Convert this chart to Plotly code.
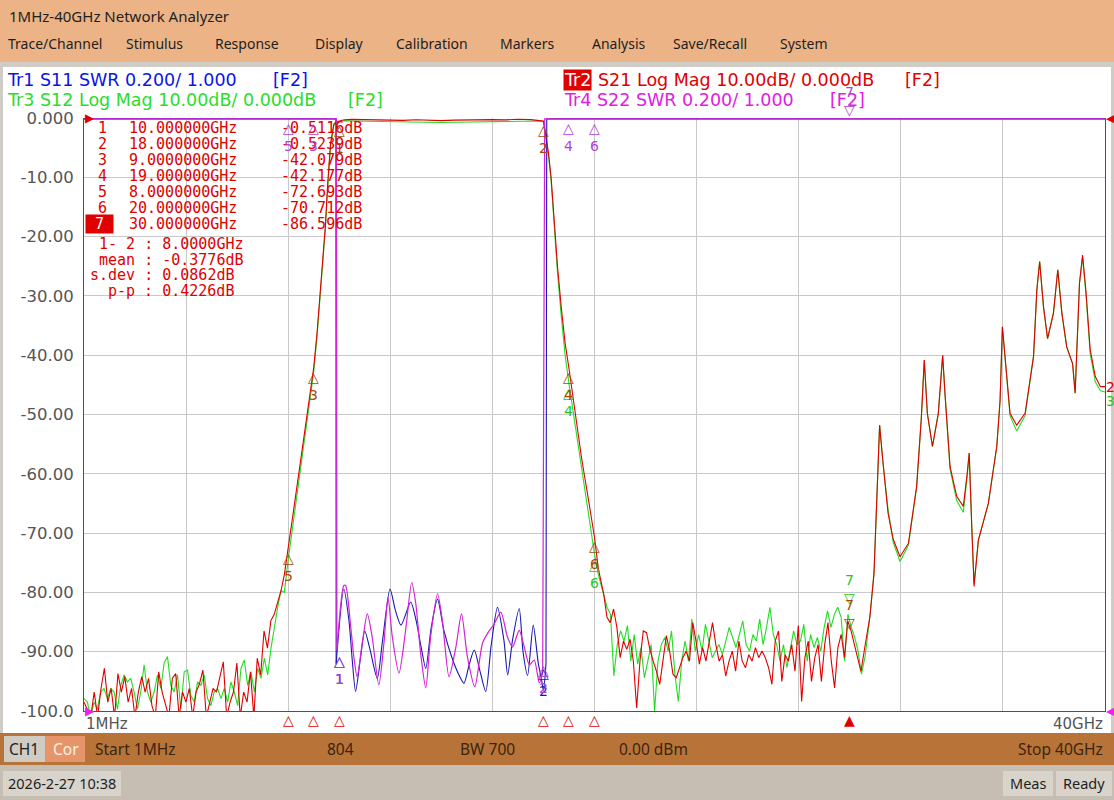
import numpy as np
import plotly.graph_objects as go

# ---------------- data ----------------
START_GHZ = 0.001
STOP_GHZ = 40.0
GRID_X = list(np.linspace(START_GHZ, STOP_GHZ, 11))
DB_TICKS = [0, -10, -20, -30, -40, -50, -60, -70, -80, -90, -100]
DB_TICK_TEXT = ["0.000", "-10.00", "-20.00", "-30.00", "-40.00", "-50.00",
                "-60.00", "-70.00", "-80.00", "-90.00", "-100.0"]
DB_RANGE = (-100.0, 0.0)
SWR_RANGE = (1.0, 3.003)   # 0.200/div, reference 1.000 at bottom

# S21 (Tr2, red) and S12 (Tr3, green), dB
S21_LO_RANGE = (0.001, 7.72)
S21_LO = [-98.5, -99.9, -101, -96.8, -101, -96.2, -92.8, -98.5, -96.2, -101,
          -93.7, -96.8, -94.2, -98.5, -96.2, -101, -96.8, -94.2, -96.8, -94.5,
          -99.1, -101, -93.4, -96.8, -99.1, -101, -94.5, -93.7, -101, -96.8,
          -98.5, -96.2, -101, -96.8, -95.4, -93.1, -101, -98.5, -96.2, -96.8,
          -94.2, -91.7, -101, -98.5, -96.8, -91.9, -101, -96.8, -98.5, -93.4,
          -101, -91.1, -93.9, -86.5, -89.4, -84.8, -83.7, -81.9, -79.7]
S12_LO_RANGE = (0.001, 7.72)
S12_LO = [-97.9, -98.5, -101, -98.5, -99.7, -96.8, -96.2, -97.9, -96.2, -96.8,
          -99.7, -95.7, -93.9, -95.1, -94.5, -96.8, -99.7, -96.8, -92.2, -96.8,
          -98.5, -96.8, -93.9, -96.2, -91.9, -90.8, -95.7, -96.8, -93.9, -99.7,
          -93.4, -93.1, -97.4, -98.5, -95.1, -95.7, -93.9, -97.9, -99.1, -96.8,
          -96.2, -97.9, -96.2, -98.5, -95.1, -96.8, -99.1, -92.8, -91.4, -95.7,
          -93.4, -96.8, -92.8, -94.5, -91.1, -93.9, -89.4, -85.9, -82.5, -79.7]

MID_F = [7.85, 8.0, 8.25, 8.5, 8.75, 9.0, 9.13, 9.33, 9.46, 9.55, 9.66, 9.79, 9.9,
         10.0, 10.2, 10.5, 11.0, 11.5, 12.0, 12.5, 13.0, 13.5, 14.0, 14.5, 15.0,
         15.5, 16.0, 16.5, 17.0, 17.5, 17.8, 18.0, 18.1, 18.2, 18.3, 18.4, 18.55,
         18.7, 18.85, 19.0, 19.25, 19.5, 19.75, 20.0, 20.15]
S21_MID = [-77.0, -72.7, -65.0, -57.4, -49.8, -42.1, -36.3, -25.0, -18.0, -11.0,
           -4.3, -1.0, -0.6, -0.51, -0.30, -0.24, -0.30, -0.36, -0.32, -0.40,
           -0.30, -0.36, -0.44, -0.35, -0.30, -0.34, -0.28, -0.31, -0.22, -0.27,
           -0.38, -0.52, -3.0, -6.0, -10.0, -16.0, -25.0, -32.0, -38.0, -42.2,
           -50.0, -57.5, -64.0, -70.7, -76.0]
S12_MID = [-80.0, -74.5, -66.5, -58.5, -50.5, -42.8, -36.8, -25.5, -18.5, -11.5,
           -4.6, -1.2, -0.8, -0.62, -0.45, -0.50, -0.55, -0.60, -0.62, -0.66,
           -0.70, -0.72, -0.76, -0.72, -0.68, -0.63, -0.60, -0.56, -0.50, -0.47,
           -0.50, -0.60, -3.3, -6.5, -10.5, -17.0, -26.0, -33.5, -40.0, -44.8,
           -52.0, -59.0, -66.0, -73.5, -77.0]

S21_HI_RANGE = (20.36, 30.44)
S21_HI = [-80.3, -84.2, -85.1, -82.8, -85.9, -91.0, -88.2, -89.6, -87.9, -91.6,
          -99.5, -91.6, -86.5, -86.8, -89.6, -91.6, -93.3, -95.5, -91.6, -87.3,
          -89.9, -93.8, -94.4, -92.7, -91.0, -89.9, -91.6, -85.1, -88.2, -92.1,
          -89.3, -91.6, -88.2, -85.1, -88.8, -91.6, -90.5, -94.1, -91.6, -89.9,
          -93.3, -88.2, -91.6, -92.7, -90.5, -91.6, -89.3, -91.0, -89.9, -91.0,
          -92.7, -95.5, -88.2, -86.5, -95.0, -90.5, -91.6, -88.8, -93.3, -85.6,
          -98.4, -91.0, -88.2, -95.0, -91.0, -88.8, -95.0, -88.8, -85.1, -91.6,
          -96.1, -89.3, -87.1, -91.0, -84.8, -86.5, -88.8, -91.0, -93.3]
S12_HI_RANGE = (20.36, 30.46)
S12_HI = [-80.3, -82.5, -83.7, -94.1, -88.8, -86.5, -88.2, -85.6, -91.6, -87.1,
          -92.1, -89.3, -94.4, -91.6, -88.8, -100.1, -91.6, -88.8, -87.6, -89.9,
          -86.5, -93.8, -98.4, -91.6, -88.2, -91.6, -84.5, -89.9, -87.1, -89.9,
          -85.4, -88.2, -91.0, -89.9, -88.8, -90.5, -88.2, -85.9, -87.6, -89.3,
          -87.1, -84.8, -88.8, -89.9, -87.1, -88.2, -84.5, -88.8, -85.9, -82.5,
          -87.1, -88.8, -91.6, -88.8, -92.7, -89.3, -86.5, -88.8, -88.2, -85.4,
          -91.6, -87.1, -89.3, -87.6, -89.9, -85.9, -83.1, -85.9, -83.7, -82.5,
          -84.2, -91.6, -83.7, -85.9, -87.6, -89.9, -93.8]

TAIL_F = [30.6, 30.79, 30.95, 31.05, 31.12, 31.17, 31.3, 31.5, 31.7, 31.97, 32.3,
          32.62, 32.8, 32.92, 33.04, 33.24, 33.47, 33.64, 33.73, 33.93, 34.19,
          34.45, 34.6, 34.68, 34.78, 34.87, 35.04, 35.43, 35.76, 35.89, 35.98,
          36.09, 36.28, 36.54, 36.87, 37.2, 37.33, 37.44, 37.59, 37.75, 37.98,
          38.15, 38.31, 38.5, 38.73, 38.83, 38.94, 39.0, 39.12, 39.25, 39.42,
          39.62, 39.82, 40.0]
S21_TAIL = [-89.0, -84.1, -76.8, -65.5, -56.5, -51.8, -58.0, -66.6, -71.0, -74.0,
            -71.7, -62.2, -50.9, -40.8, -49.8, -55.4, -49.8, -40.0, -46.4, -58.8,
            -63.8, -65.5, -60.0, -56.5, -68.9, -79.0, -71.2, -65.0, -55.4, -47.6,
            -35.2, -40.2, -49.8, -51.8, -49.8, -40.2, -29.0, -24.2, -31.8, -37.2,
            -32.9, -25.6, -32.9, -38.6, -41.4, -46.4, -34.6, -27.9, -23.1, -29.0,
            -39.1, -43.6, -45.3, -45.3]
S12_TAIL = [-90.8, -84.1, -76.8, -65.5, -56.5, -51.8, -58.0, -66.0, -71.5, -74.8,
            -72.0, -62.2, -50.9, -40.8, -49.8, -55.4, -49.8, -40.0, -46.4, -59.2,
            -64.5, -66.5, -60.5, -56.5, -68.9, -78.5, -71.2, -65.0, -55.4, -47.6,
            -35.2, -40.2, -50.2, -52.8, -50.2, -40.2, -29.0, -24.2, -31.8, -37.2,
            -32.9, -25.6, -32.9, -38.6, -41.4, -46.4, -34.6, -27.9, -23.5, -29.5,
            -39.8, -44.5, -46.0, -46.2]

# S11 (Tr1, blue) and S22 (Tr4, magenta), SWR (clamped at top of scale)
S11_F = [0.001, 9.87, 9.88, 10.18, 10.38, 10.51, 10.64, 10.84, 11.0, 11.2, 11.49,
         11.7, 11.99, 12.2, 12.42, 12.8, 13.0, 13.2, 13.39, 13.6, 13.85, 14.1,
         14.4, 14.7, 14.89, 15.1, 15.29, 15.5, 15.74, 15.95, 16.2, 16.45, 16.6,
         16.79, 17.05, 17.2, 17.38, 17.6, 17.8, 17.92, 18.0, 18.1, 18.13, 40.0]
S11_SWR = [3.0, 3.0, 1.16, 1.412, 1.306, 1.172, 1.066, 1.184, 1.27, 1.21, 1.11,
           1.24, 1.412, 1.34, 1.29, 1.368, 1.31, 1.22, 1.144, 1.28, 1.378, 1.272,
           1.184, 1.12, 1.094, 1.16, 1.206, 1.14, 1.066, 1.22, 1.35, 1.24, 1.122,
           1.24, 1.346, 1.2, 1.12, 1.29, 1.16, 1.11, 1.07, 1.16, 3.0, 3.0]
S22_F = [0.001, 9.89, 9.91, 10.18, 10.25, 10.44, 10.57, 10.70, 10.90, 11.10, 11.29,
         11.55, 11.75, 11.91, 12.08, 12.34, 12.60, 12.84, 13.00, 13.19, 13.39,
         13.58, 13.85, 14.04, 14.30, 14.57, 14.79, 15.02, 15.31, 15.61, 15.81,
         16.07, 16.33, 16.59, 16.79, 17.05, 17.25, 17.45, 17.64, 17.84, 17.97,
         18.05, 40.0]
S22_SWR = [3.0, 3.0, 1.206, 1.424, 1.424, 1.294, 1.184, 1.116, 1.228, 1.328, 1.25,
           1.088, 1.228, 1.384, 1.25, 1.128, 1.272, 1.434, 1.362, 1.194, 1.078,
           1.25, 1.396, 1.306, 1.116, 1.216, 1.328, 1.184, 1.082, 1.228, 1.262,
           1.294, 1.334, 1.25, 1.216, 1.272, 1.216, 1.156, 1.172, 1.094, 1.128,
           3.0, 3.0]

# markers
MK_NUM = [1, 2, 3, 4, 5, 6, 7]
MK_FREQ = [10.0, 18.0, 9.0, 19.0, 8.0, 20.0, 30.0]
MK_FREQ_TXT = ["10.000000GHz", "18.000000GHz", "9.0000000GHz", "19.000000GHz",
               "8.0000000GHz", "20.000000GHz", "30.000000GHz"]
MK_S21 = [-0.5116, -0.5239, -42.079, -42.177, -72.693, -70.712, -86.596]
MK_S21_TXT = ["-0.5116dB", "-0.5239dB", "-42.079dB", "-42.177dB", "-72.693dB",
              "-70.712dB", "-86.596dB"]
MK_S12 = [-0.62, -0.60, -43.0, -44.8, -74.5, -73.8, -82.5]
MK_S11 = [1.20, 1.16, 3.0, 3.0, 3.0, 3.0, 3.0]
MK_S22 = [1.20, 1.17, 3.0, 3.0, 3.0, 3.0, 3.0]
S12_MK_SHOWN = [4, 6, 7]      # the others sit under the S21 markers
S11_MK_SHOWN = [1, 2]         # the others sit under the S22 markers
ACTIVE_MK = 7
STATS = [("1- 2 : 8.0000GHz", 98), ("mean : -0.3776dB", 98),
         ("s.dev : 0.0862dB", 89), ("p-p : 0.4226dB", 107)]

# ---------------- styling ----------------
RED, GREEN, BLUE, MAG = "#E00000", "#22DD22", "#1818B0", "#D820D8"
MK_RED, MK_PURPLE = "#A84800", "#B040D8"
MONO = "DejaVu Sans Mono"
SANS = "DejaVu Sans"
UI = "Noto Sans"

PL, PR, PT, PB = 84, 1105, 118, 711


def fx(x):
    return (x - PL) / (PR - PL)


def fy(y):
    return (PB - y) / (PB - PT)


def seg(rng, vals):
    return list(np.linspace(rng[0], rng[1], len(vals)))


s21_x = seg(S21_LO_RANGE, S21_LO) + MID_F + seg(S21_HI_RANGE, S21_HI) + TAIL_F
s21_y = S21_LO + S21_MID + S21_HI + S21_TAIL
s12_x = seg(S12_LO_RANGE, S12_LO) + MID_F + seg(S12_HI_RANGE, S12_HI) + TAIL_F
s12_y = S12_LO + S12_MID + S12_HI + S12_TAIL

fig = go.Figure()
fig.add_trace(go.Scatter(x=s12_x, y=s12_y, mode="lines", line=dict(color=GREEN, width=1.1), hoverinfo="skip"))
fig.add_trace(go.Scatter(x=s21_x, y=s21_y, mode="lines", line=dict(color=RED, width=1.1), hoverinfo="skip"))


def swr_traces(fs, vals, color, width):
    # clamped (off-scale) part straight, in-band ripple smoothed
    clamp_x = fs[:3] + [None] + fs[-3:]
    clamp_y = vals[:3] + [None] + vals[-3:]
    fig.add_trace(go.Scatter(x=clamp_x, y=clamp_y, yaxis="y2", mode="lines", connectgaps=False,
                             line=dict(color=color, width=width), hoverinfo="skip"))
    fig.add_trace(go.Scatter(x=fs[2:-2], y=vals[2:-2], yaxis="y2", mode="lines",
                             line=dict(color=color, width=width, shape="spline", smoothing=0.7),
                             hoverinfo="skip"))


swr_traces(S11_F, S11_SWR, BLUE, 1.1)
swr_traces(S22_F, S22_SWR, MAG, 1.2)

shapes = []


def rect(x0, y0, x1, y1, color):
    shapes.append(dict(type="rect", xref="paper", yref="paper", x0=fx(x0), x1=fx(x1),
                       y0=fy(y1), y1=fy(y0), fillcolor=color, line=dict(width=0), layer="below"))


rect(0, 0, 1114, 62, "#ECB486")
rect(0, 62, 1114, 67, "#CFCBC5")
rect(0, 67, 3, 733, "#CFCBC5")
rect(1111, 67, 1114, 733, "#CFCBC5")
rect(0, 733, 1114, 765, "#B87438")
rect(4, 736, 45, 762, "#D0CCC4")
rect(45, 736, 85, 762, "#E6956A")
rect(0, 765, 1114, 800, "#C6BEB2")
rect(3, 771, 121, 796, "#D8D4CC")
rect(1003, 771, 1053, 796, "#D8D4CC")
rect(1056, 771, 1112, 796, "#D8D4CC")

ann = []


def txt(x, y, s, size, color, family=UI, anchor="left", bg=None):
    d = dict(xref="paper", yref="paper", x=fx(x), y=fy(y), text=s, xanchor=anchor,
             yanchor="middle", showarrow=False, font=dict(family=family, size=size, color=color),
             borderpad=0)
    if bg:
        d["bgcolor"] = bg
    ann.append(d)


# header
txt(8, 16, "1MHz-40GHz Network Analyzer", 15, "#1E1E1E")
for label, x in [("Trace/Channel", 7), ("Stimulus", 125), ("Response", 214), ("Display", 314),
                 ("Calibration", 395), ("Markers", 499), ("Analysis", 591),
                 ("Save/Recall", 672), ("System", 779)]:
    txt(x, 44, label, 14, "#1E1E1E")

# trace titles
txt(6, 80, "Tr1 S11 SWR 0.200/ 1.000", 17.5, "#0A14E6", SANS)
txt(272, 80, "[F2]", 17.5, "#0A14E6", SANS)
txt(6, 100, "Tr3 S12 Log Mag 10.00dB/ 0.000dB", 17.5, "#2ADD2A", SANS)
txt(347, 100, "[F2]", 17.5, "#2ADD2A", SANS)
txt(563, 80, "Tr2", 17.5, "white", SANS, bg=RED)
txt(597, 80, "S21 Log Mag 10.00dB/ 0.000dB", 17.5, RED, SANS)
txt(904, 80, "[F2]", 17.5, RED, SANS)
txt(563, 100, "Tr4 S22 SWR 0.200/ 1.000", 17.5, "#E020E0", SANS)
txt(829, 100, "[F2]", 17.5, "#E020E0", SANS)

# marker table
for i, n in enumerate(MK_NUM):
    yy = 128 + 16 * i
    if n == ACTIVE_MK:
        txt(99, yy, "\u00a0" + str(n) + "\u00a0", 15, "white", MONO, "center", bg=RED)
    else:
        txt(102, yy, str(n), 15, RED, MONO, "center")
    txt(128, yy, MK_FREQ_TXT[i], 15, RED, MONO)
    txt(363, yy, MK_S21_TXT[i], 15, RED, MONO, "right")
for i, (s, x) in enumerate(STATS):
    txt(x, 244 + 15.5 * i, s, 15, RED, MONO)

# x-axis end labels
ann.append(dict(xref="x", yref="paper", x=START_GHZ, y=fy(724), text="1MHz", xanchor="left",
                yanchor="middle", showarrow=False, font=dict(family=SANS, size=15, color="#555555")))
ann.append(dict(xref="x", yref="paper", x=STOP_GHZ, y=fy(724), text="40GHz", xanchor="right",
                yanchor="middle", showarrow=False, font=dict(family=SANS, size=15, color="#555555")))

# footer
txt(8, 749, "CH1", 15.5, "#1E1E1E")
txt(52, 749, "Cor", 15.5, "#FFF0E4")
txt(94, 749, "Start 1MHz", 15.5, "#3A2410")
txt(340, 749, "804", 15.5, "#3A2410", anchor="center")
txt(487, 749, "BW 700", 15.5, "#3A2410", anchor="center")
txt(653, 749, "0.00 dBm", 15.5, "#3A2410", anchor="center")
txt(1104, 749, "Stop 40GHz", 15.5, "#3A2410", anchor="right")
txt(62, 783, "2026-2-27 10:38", 14.5, "#1E1E1E", anchor="center")
txt(1028, 783, "Meas", 14.5, "#1E1E1E", anchor="center")
txt(1084, 783, "Ready", 14.5, "#1E1E1E", anchor="center")


# marker glyphs on traces
def mk(f, v, n, color, yref="y", active=False):
    if active:
        text, ya = f"{n}<br>\u25bd", "bottom"
    else:
        text, ya = f"\u25b3<br>{n}", "top"
    ann.append(dict(xref="x", yref=yref, x=f, y=v, text=text, xanchor="center", yanchor=ya,
                    showarrow=False, borderpad=0,
                    font=dict(family=SANS, size=14, color=color)))


for n, f, v in zip(MK_NUM, MK_FREQ, MK_S12):
    if n in S12_MK_SHOWN:
        mk(f, v, n, "#22C822", active=(n == ACTIVE_MK))
for n, f, v in zip(MK_NUM, MK_FREQ, MK_S21):
    mk(f, v, n, MK_RED, active=(n == ACTIVE_MK))
for n, f, v in zip(MK_NUM, MK_FREQ, MK_S11):
    if n in S11_MK_SHOWN:
        mk(f, v, n, BLUE, "y2", active=(n == ACTIVE_MK))
for n, f, v in zip(MK_NUM, MK_FREQ, MK_S22):
    mk(f, v, n, MK_PURPLE, "y2", active=(n == ACTIVE_MK))

# marker position indicators under the x axis
for n, f in zip(MK_NUM, MK_FREQ):
    ann.append(dict(xref="x", yref="y", x=f, y=DB_RANGE[0], text="\u25b2" if n == ACTIVE_MK else "\u25b3",
                    xanchor="center", yanchor="top", showarrow=False, borderpad=0, yshift=0,
                    font=dict(family=SANS, size=14, color=RED)))

# reference-position indicators and trace end labels
ann.append(dict(xref="x", yref="y", x=START_GHZ, y=DB_RANGE[1], text="\u25b6", xanchor="left",
                yanchor="middle", showarrow=False, borderpad=0, font=dict(family=SANS, size=12, color=RED)))
ann.append(dict(xref="x", yref="y2", x=START_GHZ, y=SWR_RANGE[0], text="\u25b6", xanchor="left",
                yanchor="middle", showarrow=False, borderpad=0, font=dict(family=SANS, size=12, color="#F020F0")))
ann.append(dict(xref="x", yref="y2", x=STOP_GHZ, y=SWR_RANGE[0], text="\u25c0", xanchor="left",
                yanchor="middle", showarrow=False, borderpad=0, font=dict(family=SANS, size=12, color="#F020F0")))
ann.append(dict(xref="x", yref="y", x=STOP_GHZ, y=DB_RANGE[1], text="\u25c0", xanchor="left",
                yanchor="middle", showarrow=False, borderpad=0, font=dict(family=SANS, size=11, color=RED)))
ann.append(dict(xref="x", yref="y", x=STOP_GHZ, y=S21_TAIL[-1], text="2", xanchor="left",
                yanchor="middle", showarrow=False, borderpad=0, font=dict(family=SANS, size=14, color=RED)))
ann.append(dict(xref="x", yref="y", x=STOP_GHZ, y=S12_TAIL[-1], text="3", xanchor="left",
                yanchor="top", showarrow=False, borderpad=0, font=dict(family=SANS, size=14, color="#22C822")))

fig.update_layout(
    width=1114, height=800, autosize=False,
    margin=dict(l=PL, r=1114 - PR, t=PT, b=800 - PB, pad=0),
    paper_bgcolor="white", plot_bgcolor="white",
    showlegend=False,
    shapes=shapes, annotations=ann,
    xaxis=dict(range=[START_GHZ, STOP_GHZ], tickvals=GRID_X, showticklabels=False, ticks="",
               showgrid=True, gridcolor="#C8C8C8", gridwidth=1, zeroline=False,
               showline=True, linecolor="#505050", linewidth=1, mirror=False, fixedrange=True),
    yaxis=dict(range=list(DB_RANGE), tickvals=DB_TICKS, ticktext=DB_TICK_TEXT,
               tickfont=dict(family=SANS, size=16.5, color="#555555"),
               ticks="outside", ticklen=6, tickcolor="rgba(0,0,0,0)",
               showgrid=True, gridcolor="#C8C8C8", gridwidth=1, zeroline=False,
               showline=True, linecolor="#505050", linewidth=1, mirror=True, fixedrange=True),
    yaxis2=dict(range=list(SWR_RANGE), overlaying="y", visible=False, fixedrange=True),
)

fig.write_html("out.html", config={"displayModeBar": False, "staticPlot": True},
               post_script="document.body.style.margin='0';document.body.style.overflow='hidden';")
